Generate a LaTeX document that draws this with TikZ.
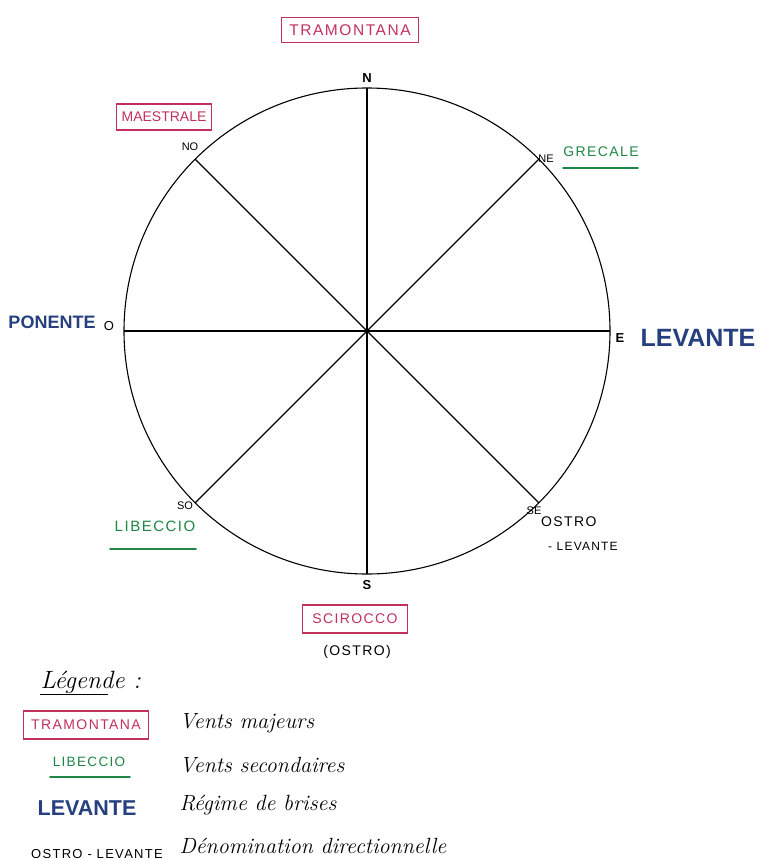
\documentclass[tikz,border=0pt]{standalone}
\usepackage{fontspec}
\newfontfamily\lab{Liberation Sans}
\newfontfamily\labw[LetterSpace=10]{Liberation Sans}
\definecolor{major}{HTML}{C2305E}
\definecolor{minor}{HTML}{1E8745}
\definecolor{breeze}{HTML}{26407F}
\begin{document}
\begin{tikzpicture}[x=1pt,y=-1pt,
  majorbox/.style={draw=major,text=major,line width=1.3pt,inner xsep=8pt,inner ysep=7pt,font=\labw\fontsize{15.5}{15.5}\selectfont},
  minorlab/.style={text=minor,font=\labw\fontsize{14}{14}\selectfont},
  breezelab/.style={text=breeze,font=\lab\bfseries\fontsize{17}{17}\selectfont},
  dirlab/.style={font=\lab\fontsize{11}{11}\selectfont,inner sep=1pt},
  smalllab/.style={font=\labw\fontsize{14}{14}\selectfont,inner sep=1pt},
  uline/.style={line width=1.8pt,line cap=round},
  desc/.style={anchor=west,font=\itshape\fontsize{22}{22}\selectfont},
  axis/.style={line width=1.1pt}]
\useasboundingbox (0,0) rectangle (761,860);
\fill[white] (0,0) rectangle (761,860);
% compass
\coordinate (C) at (367,331);
\coordinate (N) at (367,88);
\coordinate (S) at (367,574);
\coordinate (W) at (124,331);
\coordinate (E) at (610,331);
\coordinate (NE) at (539,159);
\coordinate (NW) at (195,159);
\coordinate (SW) at (195,503);
\coordinate (SE) at (539,503);
\draw[axis] (C) circle (243pt);
\draw[axis] (N) -- (S);
\draw[axis] (W) -- (E);
\draw[axis] (NW) -- (SE);
\draw[axis] (NE) -- (SW);
% direction letters
\node[dirlab,font=\lab\bfseries\fontsize{13}{13}\selectfont] (nN) at (367,78) {N};
\node[dirlab,font=\lab\bfseries\fontsize{13}{13}\selectfont] (nS) at (367,585) {S};
\node[dirlab,font=\lab\fontsize{13}{13}\selectfont] (nO) at (109,326) {O};
\node[dirlab,font=\lab\bfseries\fontsize{13}{13}\selectfont] (nE) at (620,338) {E};
\node[dirlab] (nNO) at (190,147) {NO};
\node[dirlab] (nNE) at (546,159) {NE};
\node[dirlab] (nSO) at (185,506) {SO};
\node[dirlab] (nSE) at (534,511) {SE};
% winds
\node[majorbox] (tram) at (350,30) {TRAMONTANA};
\node[majorbox,inner xsep=5pt,inner ysep=8pt,font=\lab\fontsize{14}{14}\selectfont] (maes) at (164,117) {MAESTRALE};
\node[majorbox,inner xsep=10pt,inner ysep=9pt,font=\labw\fontsize{14}{14}\selectfont] (scir) at (355,619) {SCIROCCO};
\node[smalllab] (ostro) at (357,652) {(OSTRO)};
\node[minorlab] (grec) at (601,152) {GRECALE};
\draw[uline,minor] (563,168) -- (638,168);
\node[minorlab,font=\labw\fontsize{15}{15}\selectfont] (libe) at (155,526) {LIBECCIO};
\draw[uline,minor] (110,549) -- (196,549);
\node[breezelab,font=\lab\bfseries\fontsize{18}{18}\selectfont] (pone) at (52,322) {PONENTE};
\node[breezelab,font=\lab\bfseries\fontsize{25}{25}\selectfont] (leva) at (698,338) {LEVANTE};
\node[smalllab,anchor=west] (ostro2) at (540,522) {OSTRO};
\node[smalllab,anchor=west,font=\labw\fontsize{12}{12}\selectfont] (leva2) at (547,546) {- LEVANTE};
% legend
\node[anchor=west,font=\itshape\fontsize{25}{25}\selectfont] (leg) at (37,682) {Légende :};
\draw[line width=0.8pt] (40,694) -- (108,694);
\node[majorbox,font=\labw\fontsize{14}{14}\selectfont,inner xsep=8pt,inner ysep=9pt] (ltram) at (86,725) {TRAMONTANA};
\node[desc] (d1) at (176,723) {Vents majeurs};
\node[minorlab,font=\labw\fontsize{13.5}{13.5}\selectfont] (llibe) at (89,762) {LIBECCIO};
\draw[uline,minor] (50,777) -- (130,777);
\node[desc] (d2) at (176,765) {Vents secondaires};
\node[breezelab,font=\lab\bfseries\fontsize{21.5}{21.5}\selectfont] (lleva) at (87,808) {LEVANTE};
\node[desc] (d3) at (176,805) {Régime de brises};
\node[smalllab,font=\labw\fontsize{13}{13}\selectfont] (lostro) at (97,854) {OSTRO - LEVANTE};
\node[desc] (d4) at (176,846) {Dénomination directionnelle};
\end{tikzpicture}
\end{document}
